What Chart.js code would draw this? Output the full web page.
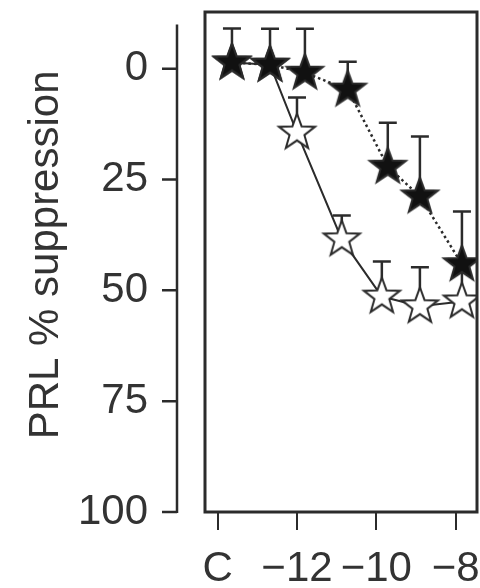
<!DOCTYPE html>
<html>
<head>
<meta charset="utf-8">
<script src="https://cdn.jsdelivr.net/npm/chart.js@4.4.0/dist/chart.umd.min.js"></script>
<style>
  body { margin: 0; background: #fff; }
  #wrap { width: 480px; height: 588px; }
</style>
</head>
<body>
<div id="wrap"><canvas id="chart"></canvas></div>
<script>
// log concentration on x (control "C" sits at -14), PRL suppression on y
const xTicks = [-14, -12, -10, -8];
const yTicks = [0, 25, 50, 75, 100];
const yTitle = 'PRL % suppression';

// filled stars, dotted line
const filledX = [-13.64, -12.68, -11.8, -10.72, -9.71, -8.9, -7.84];
const filledY = [-1.4, -0.9, 0.9, 4.7, 22.1, 28.8, 44.1];
const filledErr = [7.7, 8.1, 9.9, 6.3, 9.9, 13.5, 11.9];

// open stars, solid line (first two points sit under the filled ones)
const openX = [-13.64, -12.68, -12.0, -10.87, -9.86, -8.9, -7.84];
const openY = [-1.4, -0.9, 14.4, 38.5, 51.4, 53.6, 52.5];
const openErr = [0, 0, 7.9, 5.4, 7.9, 8.8, 9];

const ink = '#2b2b2b';
const font = { family: '"Liberation Sans", Arial, sans-serif', size: 42 };

function starImage(fill) {
  const c = document.createElement('canvas');
  c.width = 44; c.height = 44;
  const g = c.getContext('2d');
  const R = 19, r = 7.8;
  g.beginPath();
  for (let i = 0; i < 10; i++) {
    const rad = i % 2 ? r : R;
    const a = -Math.PI / 2 + i * Math.PI / 5;
    g.lineTo(22 + rad * Math.cos(a), 22 + rad * Math.sin(a));
  }
  g.closePath();
  g.fillStyle = fill;
  g.fill();
  g.lineWidth = 2;
  g.lineJoin = 'miter';
  g.strokeStyle = ink;
  g.stroke();
  return c;
}

const toPoints = (xs, ys) => xs.map((x, i) => ({ x: x, y: ys[i] }));

// upward error bars with caps, under the stars
const errorBars = {
  id: 'errorBars',
  beforeDatasetsDraw(chart) {
    const ctx = chart.ctx;
    const y = chart.scales.y;
    const errs = [filledErr, openErr];
    const vals = [filledY, openY];
    ctx.save();
    ctx.strokeStyle = ink;
    ctx.lineWidth = 2.5;
    [1, 0].forEach(d => {
      chart.getDatasetMeta(d).data.forEach((pt, i) => {
        const e = errs[d][i];
        if (!e) return;
        const top = y.getPixelForValue(vals[d][i] - e);
        ctx.beginPath();
        ctx.moveTo(pt.x, pt.y);
        ctx.lineTo(pt.x, top);
        ctx.moveTo(pt.x - 9, top);
        ctx.lineTo(pt.x + 9, top);
        ctx.stroke();
      });
    });
    ctx.restore();
  }
};

// box round the plot, the detached y axis line with its ticks, and the axis title
const frame = {
  id: 'frame',
  afterDraw(chart) {
    const ctx = chart.ctx;
    const a = chart.chartArea;
    const y = chart.scales.y;
    ctx.save();
    ctx.strokeStyle = ink;
    ctx.lineWidth = 3;
    ctx.strokeRect(a.left, a.top, a.right - a.left, a.bottom - a.top);
    const ax = a.left - 28;
    ctx.lineWidth = 2.5;
    ctx.beginPath();
    ctx.moveTo(ax, y.getPixelForValue(-10));
    ctx.lineTo(ax, y.getPixelForValue(100) + 1);
    yTicks.forEach(v => {
      const py = y.getPixelForValue(v);
      ctx.moveTo(ax, py);
      ctx.lineTo(ax - 15, py);
    });
    ctx.stroke();

    ctx.translate(46, y.getPixelForValue(42));
    ctx.rotate(-Math.PI / 2);
    ctx.fillStyle = '#333';
    ctx.font = font.size + 'px ' + font.family;
    ctx.textAlign = 'center';
    ctx.textBaseline = 'middle';
    ctx.fillText(yTitle, 0, 0);
    ctx.restore();
  }
};

new Chart(document.getElementById('chart'), {
  type: 'line',
  data: {
    datasets: [
      {
        label: 'filled',
        data: toPoints(filledX, filledY),
        borderColor: ink,
        borderWidth: 2.5,
        borderDash: [2.5, 3],
        pointStyle: starImage('#111'),
        pointRadius: 10,
        clip: 0
      },
      {
        label: 'open',
        data: toPoints(openX, openY),
        borderColor: ink,
        borderWidth: 2,
        pointStyle: starImage('#fff'),
        pointRadius: 10,
        clip: 0
      }
    ]
  },
  options: {
    responsive: true,
    maintainAspectRatio: false,
    animation: false,
    layout: { autoPadding: false, padding: { top: 12, right: 3 } },
    plugins: { legend: { display: false }, tooltip: { enabled: false } },
    scales: {
      x: {
        type: 'linear',
        min: -14.32,
        max: -7.46,
        afterBuildTicks: s => { s.ticks = xTicks.map(v => ({ value: v })); },
        afterFit: s => {
          s.height = 76;
          s.paddingLeft = 0;
          s.paddingRight = 0;
        },
        border: { display: false },
        grid: { drawOnChartArea: false, drawTicks: true, tickLength: 18, color: ink, lineWidth: 2 },
        ticks: {
          autoSkip: false,
          maxRotation: 0,
          padding: 14,
          color: '#333',
          font: font,
          callback: v => v === -14 ? 'C' : '\u2212' + Math.abs(v)
        }
      },
      y: {
        type: 'linear',
        reverse: true,
        min: -12.8,
        max: 100,
        afterBuildTicks: s => { s.ticks = yTicks.map(v => ({ value: v })); },
        afterFit: s => {
          s.width = 205;
          s.paddingTop = 0;
          s.paddingBottom = 0;
        },
        border: { display: false },
        grid: { display: false, drawTicks: false },
        ticks: { padding: 57, color: '#333', font: font }
      }
    }
  },
  plugins: [errorBars, frame]
});
</script>
</body>
</html>
